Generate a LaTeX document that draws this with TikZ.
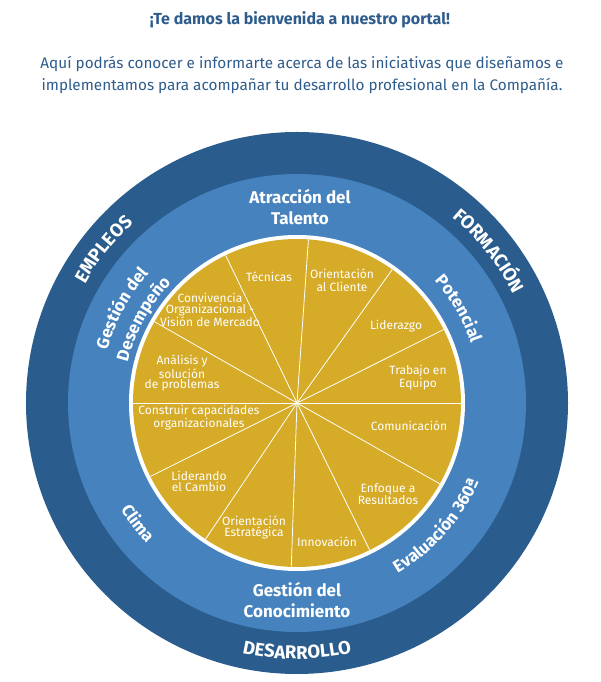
\documentclass[tikz,border=0pt]{standalone}
\usepackage{fontspec}
\setmainfont{Fira Sans}
\usetikzlibrary{decorations.text}
\definecolor{outerblue}{HTML}{2A5D8E}
\definecolor{midblue}{HTML}{4683BE}
\definecolor{gold}{HTML}{D6AB28}
\definecolor{titleblue}{HTML}{2E5C8C}
\newcommand\myarcfont{\color{white}\bfseries\fontsize{17}{17}\selectfont}
\newcommand\myouterfont{\color{white}\bfseries\fontsize{18.5}{18.5}\selectfont}
\begin{document}
\begin{tikzpicture}[x=1pt,y=1pt,
  pielabel/.style={text=white, align=center, font=\fontsize{12}{11.5}\selectfont, inner sep=0pt},
  ringlabel/.style={text=white, align=center, font=\bfseries\fontsize{17}{21}\selectfont, inner sep=0pt},
  arclabel/.style={decorate, decoration={text along path, text align=center, text={#1}}}
]
\useasboundingbox (-297,403) rectangle (303,-279);
\coordinate (c) at (0,0);
% rings
\fill[outerblue] (c) circle (271);
\fill[midblue] (c) circle (229);
\fill[white] (c) circle (168);
\fill[gold] (c) circle (164);
\foreach \a in {0,26.6,54.5,86,115.8,150.3,180,206.6,236.1,268,296.3,330.5}
  \draw[white, line width=0.8pt] (c) -- (\a:164);
% title
\node[text=titleblue, font=\bfseries\fontsize{16}{16}\selectfont] (title) at (3,383) {¡Te damos la bienvenida a nuestro portal!};
\node[text=titleblue, align=center, font=\fontsize{15.3}{22}\selectfont] (intro) at (5,328)
  {Aquí podrás conocer e informarte acerca de las iniciativas que diseñamos e\\implementamos para acompañar tu desarrollo profesional en la Compañía.};
% pie labels
\node[pielabel] (tec) at (-28,126) {Técnicas};
\node[pielabel] (conv) at (-87,93) {Convivencia\\Organizacional -\\Visión de Mercado};
\node[pielabel, font=\fontsize{12}{10}\selectfont] (anal) at (-115,30) {Análisis y\\solución\\de problemas};
\node[pielabel, font=\fontsize{12}{13}\selectfont] (ocli) at (45,122.5) {Orientación\\al Cliente};
\node[pielabel] (lid) at (99,77) {Liderazgo};
\node[pielabel] (trab) at (121,25.5) {Trabajo en\\Equipo};
\node[pielabel] (com) at (112,-23) {Comunicación};
\node[pielabel] (enf) at (91,-91) {Enfoque a\\Resultados};
\node[pielabel] (inn) at (30,-139) {Innovación};
\node[pielabel] (oest) at (-43,-124.5) {Orientación\\Estratégica};
\node[pielabel] (lcam) at (-98,-78.5) {Liderando\\el Cambio};
\node[pielabel] (cons) at (-98,-14.5) {Construir capacidades\\organizacionales};
% middle ring labels
\node[ringlabel] (atr) at (3,195.5) {Atracción del\\Talento};
\node[ringlabel] (gcon) at (0,-197.5) {Gestión del\\Conocimiento};
\path[arclabel={|\myarcfont|Gestión del}] (191.7:197) arc[start angle=191.7, end angle=111.7, radius=197];
\path[arclabel={|\myarcfont|Desempeño}] (191.4:174) arc[start angle=191.4, end angle=111.4, radius=174];
\path[arclabel={|\myarcfont|Potencial}] (70.3:184) arc[start angle=70.3, end angle=-9.7, radius=184];
\path[arclabel={|\myarcfont|Evaluación 360ª}] (-81.4:198) arc[start angle=-81.4, end angle=-1.4, radius=198];
\path[arclabel={|\myarcfont|Clima}] (177.1:206) arc[start angle=177.1, end angle=257.1, radius=206];
% outer ring labels
\path[arclabel={|\myouterfont|EMPLEOS}] (181.5:243) arc[start angle=181.5, end angle=101.5, radius=243];
\path[arclabel={|\myouterfont|FORMACIÓN}] (78.4:242) arc[start angle=78.4, end angle=-1.6, radius=242];
\path[arclabel={|\myouterfont|DESARROLLO}] (230:256) arc[start angle=230, end angle=310, radius=256];
\end{tikzpicture}
\end{document}
